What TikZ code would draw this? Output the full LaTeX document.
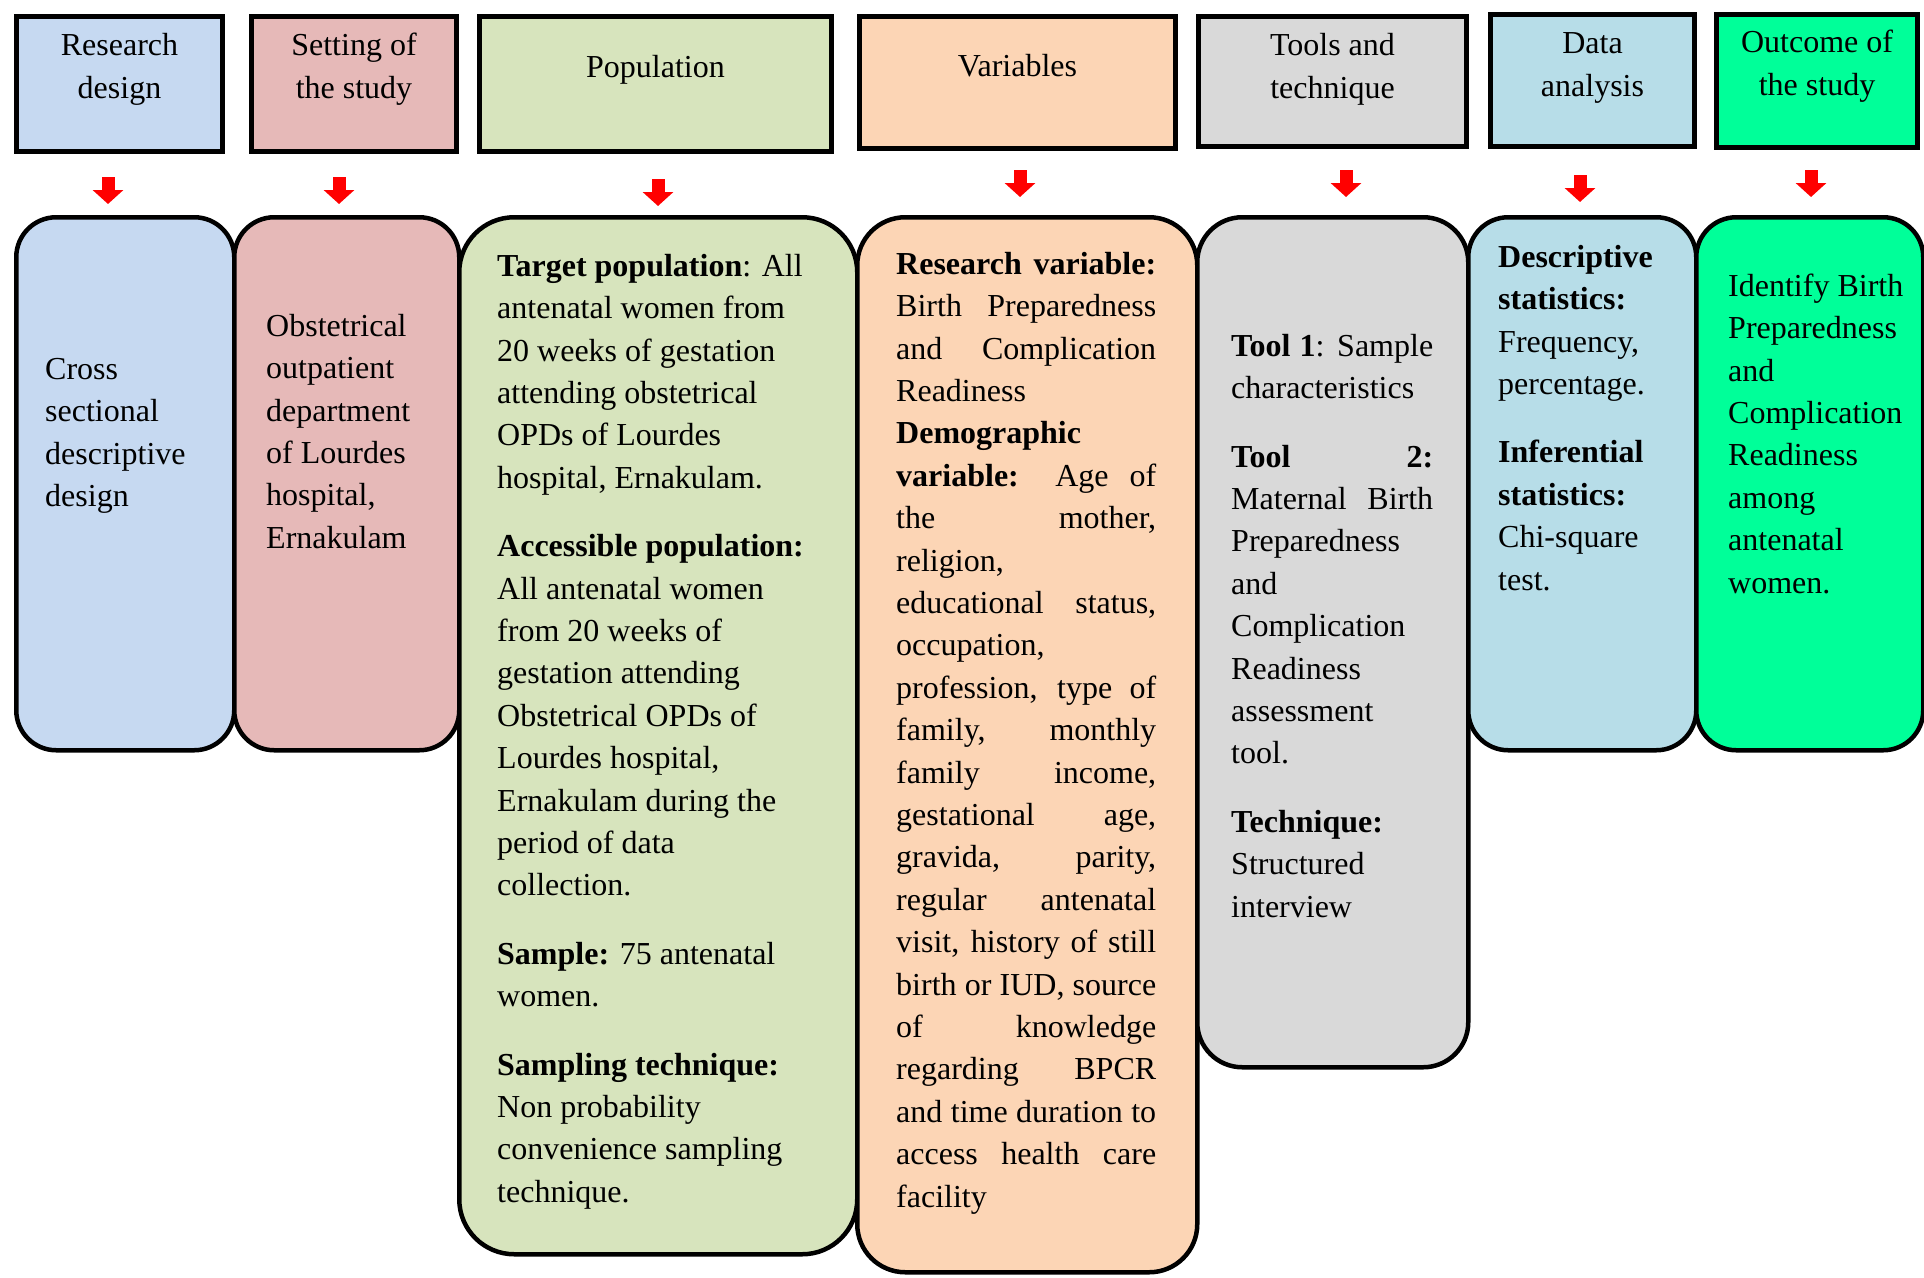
\documentclass[tikz,border=0pt]{standalone}
\usepackage{fontspec}
\setmainfont{Liberation Serif}
\usepackage{tikz}
\usetikzlibrary{positioning}
\usetikzlibrary{arrows.meta}
\tikzset{headbox/.style = {draw, line width = 5pt, inner sep = 0, anchor = north west}}
\tikzset{bodybox/.style = {draw, line width = 4.5pt, inner sep = 0, anchor = north west,
                           rounded corners = 40pt}}
\tikzset{txt/.style = {inner sep = 0, anchor = north west, align = left,
                       font = \fontsize{32}{42.4}\selectfont}}
\tikzset{lbl/.style = {txt, anchor = north, align = center}}
\tikzset{flow/.style = {red, line width = 13pt,
                        -{Triangle[width = 30pt, length = 14pt]}}}
\definecolor{rdblue}{HTML}{C6D9F1}
\definecolor{setpink}{HTML}{E6B9B8}
\definecolor{popgreen}{HTML}{D7E4BD}
\definecolor{varorange}{HTML}{FCD5B5}
\definecolor{toolgrey}{HTML}{D9D9D9}
\definecolor{dablue}{HTML}{B7DDE8}
\definecolor{outgreen}{HTML}{00FF99}
\newcommand{\jline}[2][260pt]{\makebox[#1][s]{#2}}

\begin{document}
\begin{tikzpicture}[x = 1pt, y = -1pt]
    \useasboundingbox (0, 0) rectangle (1924, 1277);

    % headings
    \node [headbox, fill = rdblue, minimum width = 206, minimum height = 135] (rdhead) at (14, 14) {};
    \node [headbox, fill = setpink, minimum width = 205, minimum height = 135] (sethead) at (249, 14) {};
    \node [headbox, fill = popgreen, minimum width = 352, minimum height = 135] (pophead) at (477, 14) {};
    \node [headbox, fill = varorange, minimum width = 316, minimum height = 132] (varhead) at (857, 14) {};
    \node [headbox, fill = toolgrey, minimum width = 268, minimum height = 130] (toolhead) at (1196, 14) {};
    \node [headbox, fill = dablue, minimum width = 204, minimum height = 132] (dahead) at (1488, 12) {};
    \node [headbox, fill = outgreen, minimum width = 201, minimum height = 133] (outhead) at (1714, 12) {};

    \node [lbl, below = 12pt of rdhead.north] (rdlbl) {\strut Research\\design};
    \node [lbl, below = 12pt of sethead.north] (setlbl) {\strut Setting of\\the study};
    \node [lbl, below = 34pt of pophead.north] (poplbl) {\strut Population};
    \node [lbl, below = 33pt of varhead.north] (varlbl) {\strut Variables};
    \node [lbl, below = 12pt of toolhead.north] (toollbl) {\strut Tools and\\technique};
    \node [lbl, below = 12pt of dahead.north] (dalbl) {\strut Data\\analysis};
    \node [lbl, below = 11pt of outhead.north] (outlbl) {\strut Outcome of\\the study};

    % arrows
    \coordinate (rdtail) at (108, 177);   \coordinate (rdtip) at (108, 204);
    \coordinate (settail) at (339, 177);  \coordinate (settip) at (339, 204);
    \coordinate (poptail) at (658, 179);  \coordinate (poptip) at (658, 206);
    \coordinate (vartail) at (1020, 170); \coordinate (vartip) at (1020, 197);
    \coordinate (tooltail) at (1346, 170); \coordinate (tooltip) at (1346, 197);
    \coordinate (datail) at (1580, 175);  \coordinate (datip) at (1580, 202);
    \coordinate (outtail) at (1811, 170); \coordinate (outtip) at (1811, 197);
    \draw [flow] (rdtail) -- (rdtip);
    \draw [flow] (settail) -- (settip);
    \draw [flow] (poptail) -- (poptip);
    \draw [flow] (vartail) -- (vartip);
    \draw [flow] (tooltail) -- (tooltip);
    \draw [flow] (datail) -- (datip);
    \draw [flow] (outtail) -- (outtip);

    % contents
    \node [bodybox, fill = rdblue, minimum width = 218, minimum height = 533] (rdbody) at (14, 215) {};
    \node [bodybox, fill = setpink, minimum width = 225, minimum height = 533] (setbody) at (232, 215) {};
    \node [bodybox, fill = popgreen, rounded corners = 55pt, minimum width = 398, minimum height = 1037] (popbody) at (457, 215) {};
    \node [bodybox, fill = varorange, rounded corners = 48pt, minimum width = 340, minimum height = 1055] (varbody) at (855, 215) {};
    \node [bodybox, fill = toolgrey, rounded corners = 45pt, minimum width = 271, minimum height = 850] (toolbody) at (1195, 215) {};
    \node [bodybox, fill = dablue, minimum width = 228, minimum height = 533] (dabody) at (1466, 215) {};
    \node [bodybox, fill = outgreen, minimum width = 227, minimum height = 533] (outbody) at (1694, 215) {};

    \node [txt] (rdtxt) at (45, 349.5) {\strut Cross\\sectional\\descriptive\\design};
    \node [txt] (settxt) at (266, 306.5) {\strut Obstetrical\\outpatient\\department\\of Lourdes\\hospital,\\Ernakulam};
    \node [txt] (poptxt) at (497, 246.5) {\strut\textbf{Target population}: All\\antenatal women from\\20 weeks of gestation\\attending obstetrical\\OPDs of Lourdes\\hospital, Ernakulam.\\[26pt]
        \textbf{Accessible population:}\\All antenatal women\\from 20 weeks of\\gestation attending\\Obstetrical OPDs of\\Lourdes hospital,\\Ernakulam during the\\period of data\\collection.\\[26pt]
        \textbf{Sample:} 75 antenatal\\women.\\[26pt]
        \textbf{Sampling technique:}\\Non probability\\convenience sampling\\technique.};
    \node [txt] (vartxt) at (896, 244.5) {\strut\jline{\textbf{Research variable:}}\\\jline{Birth Preparedness}\\\jline{and Complication}\\Readiness\\
        \textbf{Demographic}\\\jline{\textbf{variable:} Age of}\\\jline{the mother,}\\religion,\\\jline{educational status,}\\occupation,\\
        \jline{profession, type of}\\\jline{family, monthly}\\\jline{family income,}\\\jline{gestational age,}\\\jline{gravida, parity,}\\
        \jline{regular antenatal}\\\jline{visit, history of still}\\\jline{birth or IUD, source}\\\jline{of knowledge}\\\jline{regarding BPCR}\\
        \jline{and time duration to}\\\jline{access health care}\\facility};
    \node [txt] (tooltxt) at (1231, 326.5) {\strut\jline[202pt]{\textbf{Tool 1}: Sample}\\characteristics\\[26pt]
        \jline[202pt]{\textbf{Tool 2:}}\\\jline[202pt]{Maternal Birth}\\Preparedness\\and\\Complication\\Readiness\\assessment\\tool.\\[26pt]
        \textbf{Technique:}\\Structured\\interview};
    \node [txt] (datxt) at (1498, 237.5) {\strut\textbf{Descriptive}\\\textbf{statistics:}\\Frequency,\\percentage.\\[26pt]
        \textbf{Inferential}\\\textbf{statistics:}\\Chi-square\\test.};
    \node [txt] (outtxt) at (1728, 266.5) {\strut Identify Birth\\Preparedness\\and\\Complication\\Readiness\\among\\antenatal\\women.};
\end{tikzpicture}
\end{document}
